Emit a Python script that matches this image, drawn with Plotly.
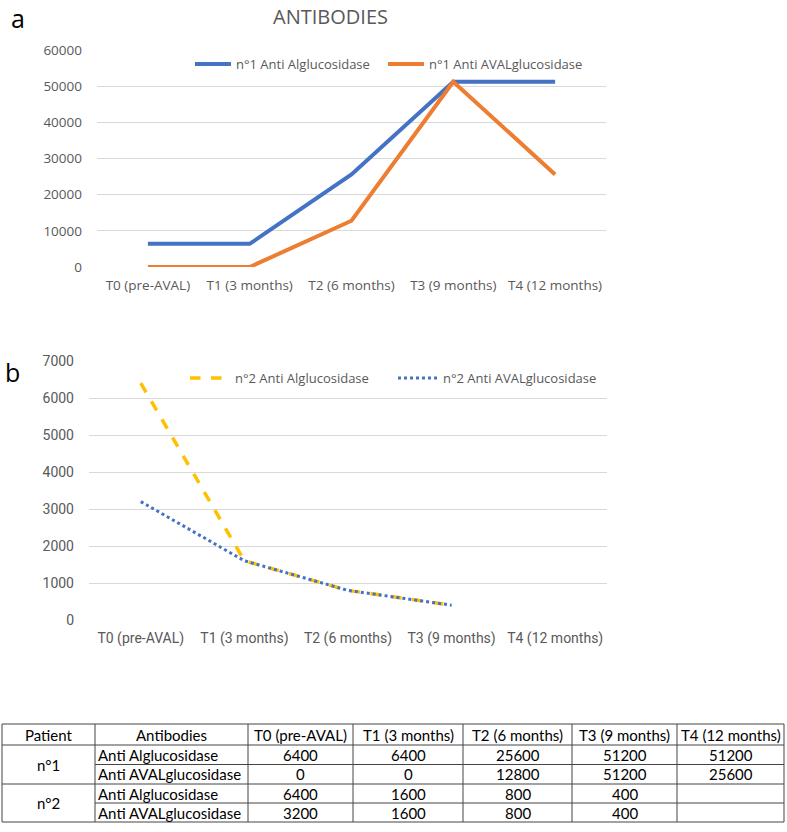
import plotly.graph_objects as go

# ---------------- data ----------------
categories = ["T0 (pre-AVAL)", "T1 (3 months)", "T2 (6 months)", "T3 (9 months)", "T4 (12 months)"]
p1_anti_alglu = [6400, 6400, 25600, 51200, 51200]
p1_anti_aval = [0, 0, 12800, 51200, 25600]
p2_anti_alglu = [6400, 1600, 800, 400, None]
p2_anti_aval = [3200, 1600, 800, 400, None]
patients = ["n°1", "n°2"]
antibody_names = ["Anti Alglucosidase", "Anti AVALglucosidase"]
table_header = ["Patient", "Antibodies"] + categories

W, H = 787, 832
def px(x): return x / W
def py(y): return 1 - y / H

fig = go.Figure()
fig.add_trace(go.Scatter(x=categories, y=p1_anti_alglu, mode="lines", name="n°1 Anti Alglucosidase",
                         line=dict(color="#4472C4", width=4), xaxis="x", yaxis="y", legend="legend"))
fig.add_trace(go.Scatter(x=categories, y=p1_anti_aval, mode="lines", name="n°1 Anti AVALglucosidase",
                         line=dict(color="#ED7D31", width=4), xaxis="x", yaxis="y", legend="legend3"))
fig.add_trace(go.Scatter(x=categories, y=p2_anti_alglu, mode="lines", name="n°2 Anti Alglucosidase",
                         line=dict(color="#FFC000", width=3.5, dash="dash"), xaxis="x2", yaxis="y2", legend="legend2"))
fig.add_trace(go.Scatter(x=categories, y=p2_anti_aval, mode="lines", name="n°2 Anti AVALglucosidase",
                         line=dict(color="#4472C4", width=3, dash="dot"), xaxis="x2", yaxis="y2", legend="legend4"))

tickfont_a = dict(family="Open Sans, sans-serif", size=13.5, color="#595959")
tickfont_b = dict(family="Liberation Sans Narrow, Roboto, sans-serif", size=14, color="#595959")
legfont = dict(family="Open Sans, sans-serif", size=13, color="#595959")

def leg(xp, yp, iw):
    return dict(orientation="h", x=px(xp), y=py(yp), xanchor="left", yanchor="top",
                font=legfont, bgcolor="rgba(0,0,0,0)", itemwidth=iw)

fig.update_layout(
    template="none",
    width=W, height=H, margin=dict(l=0, r=0, t=0, b=0, autoexpand=False),
    paper_bgcolor="white", plot_bgcolor="white",
    showlegend=True,
    xaxis=dict(domain=[px(97), px(606)], type="category", range=[-0.5, 4.5], showgrid=False,
               zeroline=False, showline=False, ticks="", tickfont=tickfont_a, anchor="y",
               automargin=False, ticklabelstandoff=8),
    yaxis=dict(domain=[py(267), py(50)], range=[0, 60000], dtick=10000, tickformat="d",
               gridcolor="#D9D9D9", gridwidth=1, zeroline=False, showline=False, ticks="",
               tickfont=tickfont_a, anchor="x", ticklabelstandoff=14, automargin=False),
    xaxis2=dict(domain=[px(89), px(607)], type="category", range=[-0.5, 4.5], showgrid=False,
                zeroline=False, showline=False, ticks="", tickfont=tickfont_b, anchor="y2",
                automargin=False, ticklabelstandoff=8),
    yaxis2=dict(domain=[py(620), py(361)], range=[0, 7000], dtick=1000, tickformat="d",
                gridcolor="#D9D9D9", gridwidth=1, zeroline=False, showline=False, ticks="",
                tickfont=tickfont_b, anchor="x2", ticklabelstandoff=14, automargin=False),
    legend=leg(190, 49, 36),
    legend3=leg(383, 49, 36),
    legend2=leg(185, 363, 40),
    legend4=leg(393, 363, 40),
)

annotations = [
    dict(text="ANTIBODIES", x=px(330), y=py(17), xref="paper", yref="paper", showarrow=False,
         xanchor="center", yanchor="middle",
         font=dict(family="Open Sans, sans-serif", size=20, color="#595959")),
    dict(text="a", x=px(18), y=py(18), xref="paper", yref="paper", showarrow=False,
         xanchor="center", yanchor="middle",
         font=dict(family="Open Sans, sans-serif", size=25, color="black")),
    dict(text="b", x=px(12), y=py(372), xref="paper", yref="paper", showarrow=False,
         xanchor="center", yanchor="middle",
         font=dict(family="Open Sans, sans-serif", size=25, color="black")),
]

# ---------------- table (drawn with shapes + annotations) ----------------
col_edges = [2, 95, 248, 353, 463, 572, 677, 784]
row_edges = [724, 745, 764.5, 784, 803, 822]
line_style = dict(color="#444444", width=1)
shapes = []
for xe in col_edges:
    shapes.append(dict(type="line", xref="paper", yref="paper", x0=px(xe), x1=px(xe),
                       y0=py(row_edges[0]), y1=py(row_edges[-1]), line=line_style))
for i, ye in enumerate(row_edges):
    x_start = col_edges[0] if i in (0, 1, 3, 5) else col_edges[1]
    shapes.append(dict(type="line", xref="paper", yref="paper", x0=px(x_start), x1=px(col_edges[-1]),
                       y0=py(ye), y1=py(ye), line=line_style))

tfont = dict(family="Lato, sans-serif", size=15, color="black")
def cell_text(text, c, r0, r1, align="center"):
    yc = (row_edges[r0] + row_edges[r1]) / 2
    if align == "left":
        return dict(text=text, x=px(col_edges[c] + 1), y=py(yc), xref="paper", yref="paper",
                    showarrow=False, xanchor="left", yanchor="middle", font=tfont)
    xc = (col_edges[c] + col_edges[c + 1]) / 2
    return dict(text=text, x=px(xc), y=py(yc), xref="paper", yref="paper", showarrow=False,
                xanchor="center", yanchor="middle", font=tfont)

for c, h in enumerate(table_header):
    annotations.append(cell_text(h, c, 0, 1))
series_rows = [p1_anti_alglu, p1_anti_aval, p2_anti_alglu, p2_anti_aval]
for pi, p in enumerate(patients):
    annotations.append(cell_text(p, 0, 1 + 2 * pi, 3 + 2 * pi))
for ri, vals in enumerate(series_rows):
    r = ri + 1
    annotations.append(cell_text(antibody_names[ri % 2], 1, r, r + 1, align="left"))
    for ci, v in enumerate(vals):
        if v is not None:
            annotations.append(cell_text(str(v), 2 + ci, r, r + 1))

fig.update_layout(annotations=annotations, shapes=shapes)
fig.write_html(
    "out.html",
    config={"displayModeBar": False},
    post_script="document.body.style.margin='0';document.body.style.overflow='hidden';"
                "document.documentElement.style.overflow='hidden';",
)
